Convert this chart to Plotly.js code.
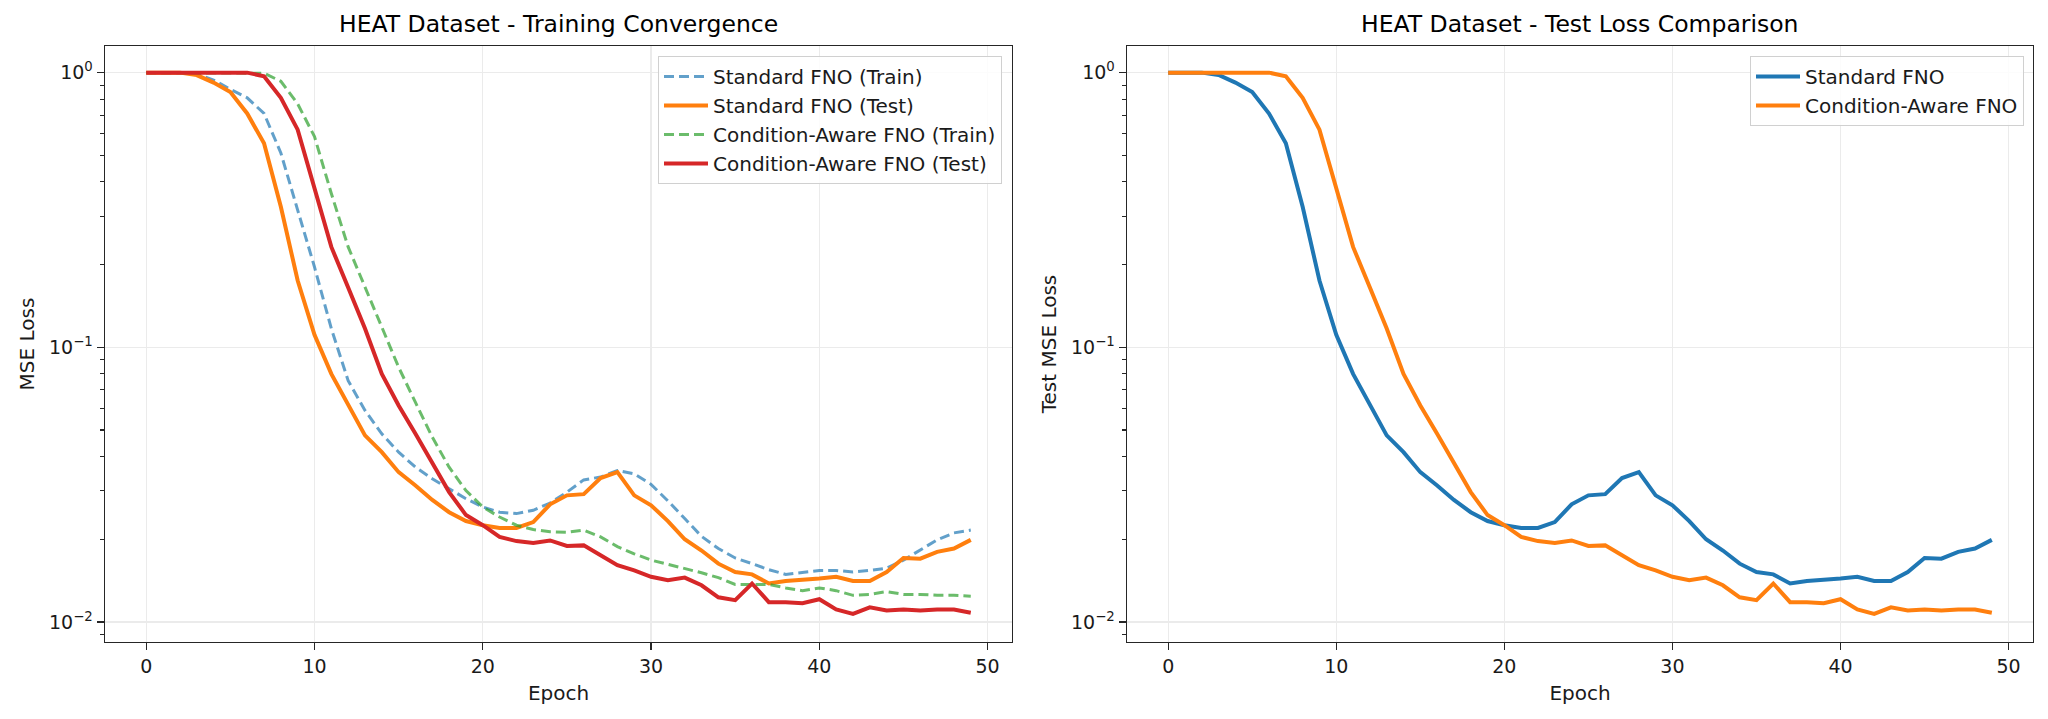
<!DOCTYPE html>
<html>
<head>
<meta charset="utf-8">
<script src="https://cdn.plot.ly/plotly-3.0.1.min.js"></script>
<style>
  html, body { margin: 0; padding: 0; background: #ffffff; }
  #chart { width: 2048px; height: 719px; }
</style>
</head>
<body>
<div id="chart"></div>
<script>
// ---- data ----
const epochs = [0,1,2,3,4,5,6,7,8,9,10,11,12,13,14,15,16,17,18,19,20,21,22,23,24,25,26,27,28,29,30,31,32,33,34,35,36,37,38,39,40,41,42,43,44,45,46,47,48,49];

const standardTrain = [1.0,1.0,1.0,0.99,0.94,0.87,0.81,0.71,0.51,0.316,0.196,0.117,0.0756,0.0589,0.0484,0.0415,0.0366,0.0332,0.0305,0.0281,0.0262,0.0251,0.0248,0.0255,0.0271,0.0297,0.0329,0.0337,0.0356,0.0346,0.0317,0.0276,0.0238,0.0205,0.0185,0.0171,0.0163,0.0155,0.0149,0.0151,0.0154,0.0154,0.0152,0.0154,0.0157,0.0168,0.0183,0.0199,0.0211,0.0216];

const standardTest = [1.0,1.0,1.0,0.98,0.92,0.85,0.71,0.553,0.325,0.175,0.111,0.080,0.0614,0.0478,0.0415,0.0351,0.0314,0.0278,0.0251,0.0233,0.0225,0.0220,0.0220,0.0231,0.0268,0.0289,0.0292,0.0334,0.0351,0.0289,0.0266,0.0233,0.0200,0.0182,0.0163,0.0152,0.0149,0.0138,0.0141,0.0142,0.0144,0.0146,0.0141,0.0141,0.0152,0.0171,0.0170,0.0180,0.0185,0.0199];

const conditionTrain = [1.0,1.0,1.0,1.0,1.0,1.0,1.0,0.995,0.93,0.77,0.585,0.363,0.232,0.166,0.117,0.0846,0.063,0.0471,0.0366,0.0301,0.0262,0.0241,0.0225,0.0217,0.0213,0.0212,0.0216,0.0204,0.0188,0.0177,0.0168,0.0162,0.0157,0.0151,0.0145,0.0137,0.0137,0.0137,0.0133,0.0130,0.0133,0.0130,0.0125,0.0126,0.0129,0.0126,0.0126,0.0125,0.0125,0.0124];

const conditionTest = [1.0,1.0,1.0,1.0,1.0,1.0,1.0,0.97,0.81,0.62,0.384,0.232,0.165,0.117,0.080,0.0614,0.0484,0.0377,0.0297,0.0245,0.0225,0.0204,0.0197,0.0194,0.0198,0.0189,0.0190,0.0175,0.0161,0.0154,0.0146,0.0142,0.0145,0.0136,0.0123,0.0120,0.0138,0.0118,0.0118,0.0117,0.0121,0.0111,0.0107,0.0113,0.0110,0.0111,0.0110,0.0111,0.0111,0.0108];

const xTickVals = [0,10,20,30,40,50];
const yTickVals = [1, 0.1, 0.01];
const yTickText = ['10<sup>0</sup>', '10<sup>\u22121</sup>', '10<sup>\u22122</sup>'];

const leftTitle = 'HEAT Dataset - Training Convergence';
const rightTitle = 'HEAT Dataset - Test Loss Comparison';

// ---- styles ----
const C = { blue: '#1f77b4', orange: '#ff7f0e', green: '#2ca02c', red: '#d62728' };
const FONT = 'DejaVu Sans, Liberation Sans, sans-serif';
const W = 2048, H = 719;
const px = v => v / W;
const py = v => (H - v) / H;

const traces = [
  { x: epochs, y: standardTrain, name: 'Standard FNO (Train)', mode: 'lines', opacity: 0.7,
    line: { color: C.blue, width: 3, dash: '10px,5px' }, xaxis: 'x', yaxis: 'y', legend: 'legend' },
  { x: epochs, y: standardTest, name: 'Standard FNO (Test)', mode: 'lines',
    line: { color: C.orange, width: 4 }, xaxis: 'x', yaxis: 'y', legend: 'legend' },
  { x: epochs, y: conditionTrain, name: 'Condition-Aware FNO (Train)', mode: 'lines', opacity: 0.7,
    line: { color: C.green, width: 3, dash: '10px,5px' }, xaxis: 'x', yaxis: 'y', legend: 'legend' },
  { x: epochs, y: conditionTest, name: 'Condition-Aware FNO (Test)', mode: 'lines',
    line: { color: C.red, width: 4 }, xaxis: 'x', yaxis: 'y', legend: 'legend' },
  { x: epochs, y: standardTest, name: 'Standard FNO', mode: 'lines',
    line: { color: C.blue, width: 4 }, xaxis: 'x2', yaxis: 'y2', legend: 'legend2' },
  { x: epochs, y: conditionTest, name: 'Condition-Aware FNO', mode: 'lines',
    line: { color: C.orange, width: 4 }, xaxis: 'x2', yaxis: 'y2', legend: 'legend2' }
];

function xAxis(domain) {
  return {
    domain: domain, range: [-2.45, 51.45], tickvals: xTickVals,
    showgrid: true, gridcolor: '#ebebeb', gridwidth: 1.2, zeroline: false,
    showline: true, mirror: true, linecolor: '#262626', linewidth: 1.4,
    ticks: 'outside', ticklen: 7, tickwidth: 1.3, tickcolor: '#262626',
    tickfont: { family: FONT, size: 19, color: '#1a1a1a' },
    title: { text: 'Epoch', font: { family: FONT, size: 20, color: '#1a1a1a' }, standoff: 9 },
    automargin: false, fixedrange: true
  };
}
function yAxis(domain, anchor, titleText) {
  return {
    domain: domain, anchor: anchor, type: 'log', range: [-2.073, 0.097],
    tickmode: 'array', tickvals: yTickVals, ticktext: yTickText,
    showgrid: true, gridcolor: '#ebebeb', gridwidth: 1.2, zeroline: false,
    showline: true, mirror: true, linecolor: '#262626', linewidth: 1.4,
    ticks: 'outside', ticklen: 7, tickwidth: 1.3, tickcolor: '#262626',
    minor: { dtick: 'D1', ticks: 'outside', ticklen: 4, tickwidth: 1.1, tickcolor: '#262626', showgrid: false },
    tickfont: { family: FONT, size: 19, color: '#1a1a1a' },
    title: { text: titleText, font: { family: FONT, size: 20, color: '#1a1a1a' }, standoff: 9 },
    automargin: false, fixedrange: true
  };
}

const yDom = [py(642), py(46)];
const legendStyle = {
  xanchor: 'right', yanchor: 'top', itemwidth: 44,
  bgcolor: 'rgba(255,255,255,0.85)', bordercolor: '#d0d0d0', borderwidth: 1,
  font: { family: FONT, size: 20, color: '#1a1a1a' }, tracegroupgap: 0
};
const layout = {
  width: W, height: H,
  margin: { l: 0, r: 0, t: 0, b: 0 },
  paper_bgcolor: '#ffffff', plot_bgcolor: '#ffffff',
  font: { family: FONT, color: '#1a1a1a' },
  showlegend: true,
  xaxis: xAxis([px(105), px(1012)]),
  yaxis: yAxis(yDom, 'x', 'MSE Loss'),
  xaxis2: Object.assign(xAxis([px(1127), px(2033)]), { anchor: 'y2' }),
  yaxis2: yAxis(yDom, 'x2', 'Test MSE Loss'),
  legend: Object.assign({ x: px(1002), y: py(56) }, legendStyle),
  legend2: Object.assign({ x: px(2024), y: py(56) }, legendStyle),
  annotations: [
    { text: leftTitle, xref: 'paper', yref: 'paper', x: px(558.5), y: py(24), xanchor: 'center', yanchor: 'middle',
      showarrow: false, font: { family: FONT, size: 23.5, color: '#000000' } },
    { text: rightTitle, xref: 'paper', yref: 'paper', x: px(1580), y: py(24), xanchor: 'center', yanchor: 'middle',
      showarrow: false, font: { family: FONT, size: 23.5, color: '#000000' } }
  ]
};

Plotly.newPlot('chart', traces, layout, { staticPlot: true, displayModeBar: false });
</script>
</body>
</html>
